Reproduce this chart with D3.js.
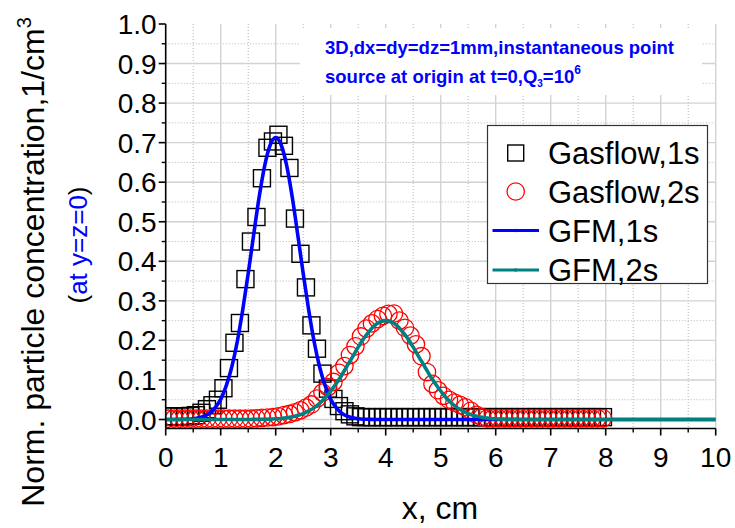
<!DOCTYPE html>
<html><head><meta charset="utf-8">
<script src="https://cdn.jsdelivr.net/npm/d3@7"></script>
<style>body{margin:0;background:#fff;}svg{display:block;font-family:"Liberation Sans",Arial,sans-serif;}</style>
</head><body><svg id="c" width="735" height="528"></svg>
<script>
// ---- data ----
const xTicks = [0,1,2,3,4,5,6,7,8,9,10];
const yTicks = [0.0,0.1,0.2,0.3,0.4,0.5,0.6,0.7,0.8,0.9,1.0];
const gasflowX = [0.05,0.15,0.25,0.35,0.45,0.55,0.65,0.75,0.85,0.95,1.05,1.15,1.25,1.35,1.45,1.55,1.65,1.75,1.85,1.95,
  2.05,2.15,2.25,2.35,2.45,2.55,2.65,2.75,2.85,2.95,3.05,3.15,3.25,3.35,3.45,3.55,3.65,3.75,3.85,3.95,
  4.05,4.15,4.25,4.35,4.45,4.55,4.65,4.75,4.85,4.95,5.05,5.15,5.25,5.35,5.45,5.55,5.65,5.75,5.85,5.95,
  6.05,6.15,6.25,6.35,6.45,6.55,6.65,6.75,6.85,6.95,7.05,7.15,7.25,7.35,7.45,7.55,7.65,7.75,7.85,7.95];
const gasflow1s = [0.008,0.008,0.008,0.008,0.009,0.011,0.017,0.026,0.036,0.050,0.079,0.130,0.194,0.244,0.355,0.450,0.512,0.610,0.687,0.703,
  0.720,0.692,0.636,0.508,0.419,0.334,0.238,0.179,0.116,0.078,0.052,0.034,0.021,0.013,0.008,0.006,0.006,0.006,0.006,0.006,
  0.006,0.006,0.006,0.006,0.006,0.006,0.006,0.006,0.006,0.006,0.006,0.006,0.006,0.006,0.006,0.006,0.006,0.006,0.006,0.006,
  0.006,0.006,0.006,0.006,0.006,0.006,0.006,0.006,0.006,0.006,0.006,0.006,0.006,0.006,0.006,0.006,0.006,0.006,0.006,0.006];
const gasflow2s = [0.002,0.002,0.002,0.002,0.002,0.002,0.002,0.002,0.002,0.002,0.002,0.002,0.002,0.002,0.002,0.002,0.003,0.004,0.005,0.006,
  0.008,0.011,0.014,0.018,0.023,0.030,0.038,0.053,0.068,0.082,0.095,0.118,0.135,0.163,0.185,0.210,0.230,0.243,0.254,0.262,
  0.267,0.268,0.250,0.232,0.212,0.190,0.160,0.120,0.090,0.074,0.060,0.050,0.043,0.037,0.031,0.022,0.012,0.006,0.003,0.003,
  0.003,0.003,0.003,0.003,0.003,0.003,0.003,0.003,0.003,0.003,0.003,0.003,0.003,0.003,0.003,0.003,0.003,0.003,0.003,0.003];
const gfmX = [0.0,0.1,0.2,0.3,0.4,0.5,0.6,0.7,0.8,0.9,1.0,1.1,1.2,1.3,1.4,1.5,1.6,1.7,1.8,1.9,
  2.0,2.1,2.2,2.3,2.4,2.5,2.6,2.7,2.8,2.9,3.0,3.1,3.2,3.3,3.4,3.5,3.6,3.7,3.8,3.9,
  4.0,4.1,4.2,4.3,4.4,4.5,4.6,4.7,4.8,4.9,5.0,5.1,5.2,5.3,5.4,5.5,5.6,5.7,5.8,5.9,
  6.0,6.1,6.2,6.3,6.4,6.5,10.0];
const gfm1s = [0.0000,0.0001,0.0001,0.0004,0.0008,0.0019,0.0041,0.0083,0.016,0.030,0.051,0.085,0.132,0.196,0.277,0.369,0.468,0.563,0.642,0.694,
  0.713,0.694,0.642,0.563,0.468,0.369,0.277,0.196,0.132,0.085,0.051,0.030,0.016,0.0083,0.0041,0.0019,0.0008,0.0004,0.0001,0.0001,
  0,0,0,0,0,0,0,0,0,0,0,0,0,0,0,0,0,0,0,0,
  0,0,0,0,0,0,0];
const gfm2s = [0,0,0,0,0,0,0,0,0,0,0,0,0,0,0,0.0001,0.0002,0.0003,0.0006,0.0010,
  0.0017,0.0027,0.0044,0.0068,0.010,0.015,0.022,0.030,0.041,0.055,0.072,0.091,0.112,0.136,0.159,0.183,0.205,0.223,0.238,0.247,
  0.250,0.247,0.238,0.223,0.205,0.183,0.159,0.136,0.112,0.091,0.072,0.055,0.041,0.030,0.022,0.015,0.010,0.0068,0.0044,0.0027,
  0.0017,0.0010,0.0006,0.0003,0.0002,0.0001,0];
const legendLabels = ["Gasflow,1s","Gasflow,2s","GFM,1s","GFM,2s"];

// ---- chart ----
const svg = d3.select("#c");
const L = 165.7, R = 715.7;
const x = d3.scaleLinear().domain([0,10]).range([L,R]);
const y = d3.scaleLinear().domain([0,1]).range([419.5,24]);
const yBottom = y(-0.0228);
const T = y(1);

// grid
const g = svg.append("g");
const minorX = d3.range(0.5,10,1);
const minorY = d3.range(0.05,1,0.1);
g.selectAll(".vmin").data(minorX).join("line")
  .attr("x1",d=>x(d)).attr("x2",d=>x(d)).attr("y1",T).attr("y2",yBottom)
  .attr("stroke","#b4b4b4").attr("stroke-width",1).attr("stroke-dasharray","1,2");
g.selectAll(".hmin").data(minorY).join("line")
  .attr("y1",d=>y(d)).attr("y2",d=>y(d)).attr("x1",L).attr("x2",R)
  .attr("stroke","#b4b4b4").attr("stroke-width",1).attr("stroke-dasharray","1,2");
g.selectAll(".vmaj").data(xTicks.slice(1)).join("line")
  .attr("x1",d=>x(d)).attr("x2",d=>x(d)).attr("y1",T).attr("y2",yBottom)
  .attr("stroke","#d2d2d2").attr("stroke-width",1.4);
g.selectAll(".hmaj").data(yTicks.slice(0,-1)).join("line")
  .attr("y1",d=>y(d)).attr("y2",d=>y(d)).attr("x1",L).attr("x2",R)
  .attr("stroke","#d2d2d2").attr("stroke-width",1.4);

// annotation box (white background)
svg.append("rect").attr("x",300).attr("y",28).attr("width",402).attr("height",67).attr("fill","#fff");

// clip
svg.append("clipPath").attr("id","clip").append("rect")
  .attr("x",L).attr("y",T-10).attr("width",R-L).attr("height",yBottom-T+10);
const plot = svg.append("g").attr("clip-path","url(#clip)");

const sq = 17, cr = 8.7;
plot.selectAll(".sq").data(gasflowX).join("rect")
  .attr("x",(d)=>x(d)-sq/2).attr("y",(d,i)=>y(gasflow1s[i])-sq/2)
  .attr("width",sq).attr("height",sq).attr("fill","none").attr("stroke","#000").attr("stroke-width",1.4);
plot.selectAll(".ci").data(gasflowX).join("circle")
  .attr("cx",d=>x(d)).attr("cy",(d,i)=>y(gasflow2s[i])).attr("r",cr)
  .attr("fill","none").attr("stroke","#ff0000").attr("stroke-width",1.3);

const line = arr => d3.line().x((d)=>x(d)).y((d,i)=>y(arr[i])).curve(d3.curveMonotoneX);
plot.append("path").datum(gfmX).attr("d",line(gfm1s)).attr("fill","none").attr("stroke","#0000ff").attr("stroke-width",3.6);
plot.append("path").datum(gfmX).attr("d",line(gfm2s)).attr("fill","none").attr("stroke","#008080").attr("stroke-width",3.6);

// axes
const fs = 28;
svg.append("line").attr("x1",L).attr("x2",L).attr("y1",T).attr("y2",yBottom).attr("stroke","#000").attr("stroke-width",1.6);
svg.append("line").attr("x1",L).attr("x2",R).attr("y1",yBottom).attr("y2",yBottom).attr("stroke","#000").attr("stroke-width",1.6);
svg.selectAll(".yt").data(yTicks).join("line").attr("x1",L-7).attr("x2",L).attr("y1",d=>y(d)).attr("y2",d=>y(d)).attr("stroke","#000").attr("stroke-width",1.6);
svg.selectAll(".ytm").data(minorY).join("line").attr("x1",L-4).attr("x2",L).attr("y1",d=>y(d)).attr("y2",d=>y(d)).attr("stroke","#000").attr("stroke-width",1.4);
svg.selectAll(".xt").data(xTicks).join("line").attr("x1",d=>x(d)).attr("x2",d=>x(d)).attr("y1",yBottom).attr("y2",yBottom+7).attr("stroke","#000").attr("stroke-width",1.6);
svg.selectAll(".xtm").data(minorX).join("line").attr("x1",d=>x(d)).attr("x2",d=>x(d)).attr("y1",yBottom).attr("y2",yBottom+4).attr("stroke","#000").attr("stroke-width",1.4);
svg.selectAll(".ytl").data(yTicks).join("text").attr("x",L-9).attr("y",d=>y(d)).attr("dy","0.36em")
  .attr("text-anchor","end").attr("font-size",fs).text(d=>d3.format(".1f")(d));
svg.selectAll(".xtl").data(xTicks).join("text").attr("x",d=>x(d)).attr("y",467)
  .attr("text-anchor","middle").attr("font-size",fs).text(d=>d);

// axis titles
svg.append("text").attr("x",440).attr("y",519).attr("text-anchor","middle").attr("font-size",32).text("x, cm");
const yl = svg.append("text").attr("transform","translate(44,262) rotate(-90)").attr("text-anchor","middle").attr("font-size",32);
yl.append("tspan").text("Norm. particle concentration,1/cm");
yl.append("tspan").attr("font-size",20).attr("dy",-13).text("3");
const yl2 = svg.append("text").attr("transform","translate(87,245) rotate(-90)").attr("text-anchor","middle").attr("font-size",26);
yl2.append("tspan").text("(");
yl2.append("tspan").attr("fill","#0000ff").text("at y=z=0");
yl2.append("tspan").text(")");

// annotation
const an = svg.append("g").attr("fill","#0000ff").attr("font-weight","bold").attr("font-size",18.5);
an.append("text").attr("x",325).attr("y",54).text("3D,dx=dy=dz=1mm,instantaneous point");
const a2 = an.append("text").attr("x",325).attr("y",83);
a2.append("tspan").text("source at origin at t=0,Q");
a2.append("tspan").attr("font-size",10).attr("dy",4).text("3");
a2.append("tspan").attr("dy",-4).text("=10");
a2.append("tspan").attr("font-size",12).attr("dy",-9).text("6");

// legend
const lg = svg.append("g");
lg.append("rect").attr("x",487.5).attr("y",125.5).attr("width",220).attr("height",158).attr("fill","#fff").attr("stroke","#333").attr("stroke-width",1.2);
const rowY = [152.5,191.5,230.5,270];
lg.append("rect").attr("x",515.7-8).attr("y",rowY[0]-7.5).attr("width",16).attr("height",16).attr("fill","none").attr("stroke","#000").attr("stroke-width",1.4);
lg.append("circle").attr("cx",515.7).attr("cy",rowY[1]).attr("r",cr).attr("fill","none").attr("stroke","#ff0000").attr("stroke-width",1.3);
[["#0000ff",2],["#008080",3]].forEach(([c,i])=>{
  lg.append("line").attr("x1",492.5).attr("x2",539).attr("y1",rowY[i]).attr("y2",rowY[i]).attr("stroke",c).attr("stroke-width",3.2);
  lg.append("circle").attr("cx",515.7).attr("cy",rowY[i]).attr("r",1.8).attr("fill",c);
});
lg.selectAll(".lt").data(legendLabels).join("text").attr("x",548).attr("y",(d,i)=>rowY[i]+11)
  .attr("font-size",31).text(d=>d);
</script></body></html>
